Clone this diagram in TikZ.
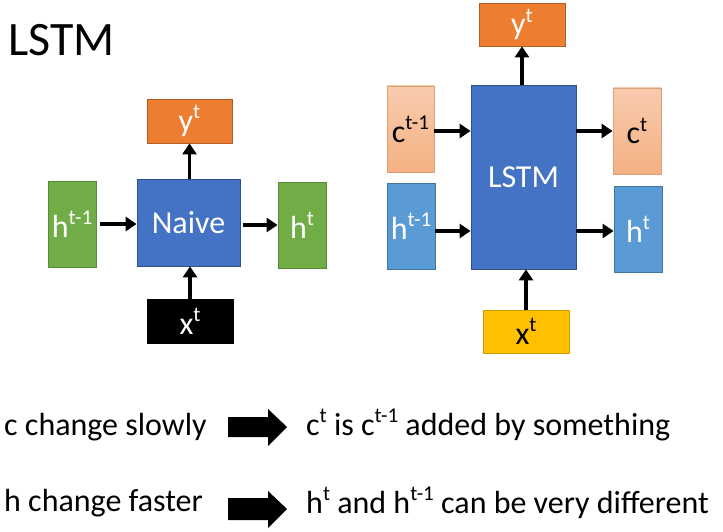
\documentclass[tikz,border=0pt]{standalone}
\usepackage{fontspec}
\setmainfont{Carlito}
\usetikzlibrary{arrows.meta}
\definecolor{corange}{HTML}{ED7D31}
\definecolor{cblue}{HTML}{4472C4}
\definecolor{cgreen}{HTML}{70AD47}
\definecolor{clblue}{HTML}{5B9BD5}
\definecolor{csalmonA}{HTML}{F8CBAD}
\definecolor{csalmonB}{HTML}{F4B183}
\definecolor{cyellow}{HTML}{FFC000}
\newcommand{\fs}[1]{\fontsize{#1}{#1}\selectfont}
\newcommand{\sps}[1]{\raisebox{0.40em}{\fontsize{0.66em}{0.66em}\selectfont #1}}
\tikzset{
  box/.style={draw, line width=0.8pt, inner sep=0pt, font=\fs{32}},
  obox/.style={box, fill=corange, draw=corange!75!black, text=white},
  bbox/.style={box, fill=cblue, draw=cblue!70!black, text=white},
  gbox/.style={box, fill=cgreen, draw=cgreen!80!black, text=white},
  lbbox/.style={box, fill=clblue, draw=clblue!75!black, text=white},
  sbox/.style={box, top color=csalmonA, bottom color=csalmonB, draw=csalmonB!90!black, text=black},
  ybox/.style={box, fill=cyellow, draw=cyellow!80!black, text=black},
  kbox/.style={box, fill=black, draw=black, text=white},
  arr/.style={line width=3.5pt, -{Triangle[length=11pt,width=14pt]}},
  txt/.style={anchor=base west, inner sep=0pt, font=\fs{32}},
  fat/.style={fill=black}
}
\begin{document}
\begin{tikzpicture}[x=1pt,y=-1pt]
\useasboundingbox (0,0) rectangle (723,532);
% title
\node[anchor=base west, inner sep=0pt, font=\fs{48}] (title) at (8,56) {LSTM};
% left diagram
\node[obox, minimum width=85pt, minimum height=44pt] (ly) at (189.5,121) {y\sps{t}};
\node[bbox, minimum width=103pt, minimum height=87pt, font=\fs{32}] (naive) at (188.5,222.5) {Naive};
\node[gbox, minimum width=48pt, minimum height=86pt] (lhp) at (72,224) {h\sps{t-1}};
\node[gbox, minimum width=48pt, minimum height=86pt] (lh) at (302,225) {h\sps{t}};
\node[kbox, minimum width=86pt, minimum height=44pt] (lx) at (190,321) {x\sps{t}};
\draw[arr, shorten <=4pt] (lhp.east) -- (lhp.east -| naive.west);
\draw[arr, shorten <=3pt] (naive.east |- lh.west) -- (lh.west);
\draw[arr] (naive.north -| ly.south) -- (ly.south);
\draw[arr] (lx.north) -- (lx.north |- naive.south);
% right diagram
\node[obox, minimum width=86pt, minimum height=43pt] (ry) at (522,24.5) {y\sps{t}};
\node[bbox, minimum width=105pt, minimum height=184pt, font=\fs{32}] (lstm) at (523.5,177) {LSTM};
\node[sbox, minimum width=47pt, minimum height=86pt] (rcp) at (410.5,129) {c\sps{t-1}};
\node[lbbox, minimum width=48pt, minimum height=86pt] (rhp) at (411,226) {h\sps{t-1}};
\node[sbox, minimum width=48pt, minimum height=86pt] (rc) at (637,131) {c\sps{t}};
\node[lbbox, minimum width=48pt, minimum height=86pt] (rh) at (638,229) {h\sps{t}};
\node[ybox, minimum width=86pt, minimum height=43pt] (rx) at (526,331.5) {x\sps{t}};
\coordinate (ca) at (0,131);
\coordinate (ha) at (0,231);
\draw[arr] (rcp.east |- ca) -- (lstm.west |- ca);
\draw[arr] (rhp.east |- ha) -- (lstm.west |- ha);
\draw[arr] (lstm.east |- ca) -- (rc.west |- ca);
\draw[arr] (lstm.east |- ha) -- (rh.west |- ha);
\draw[arr] (lstm.north -| ry.south) -- (ry.south);
\draw[arr] (rx.north) -- (rx.north |- lstm.south);
% bottom lines
\node[txt] (l1a) at (4,435) {c change slowly};
\node[txt] (l1b) at (306,435) {c\sps{t} is c\sps{t-1} added by something};
\node[txt] (l2a) at (4,511) {h change faster};
\node[txt] (l2b) at (306,513) {h\sps{t} and h\sps{t-1} can be very different};
\coordinate (f1) at (228,427);
\coordinate (f2) at (228,509);
\fill[fat] (f1) ++(0,-10) -- ++(40,0) -- ++(0,-8) -- ++(19,18) -- ++(-19,19) -- ++(0,-9) -- ++(-40,0) -- cycle;
\fill[fat] (f2) ++(0,-11) -- ++(40,0) -- ++(0,-7) -- ++(19,18) -- ++(-19,19) -- ++(0,-8) -- ++(-40,0) -- cycle;
\end{tikzpicture}
\end{document}
